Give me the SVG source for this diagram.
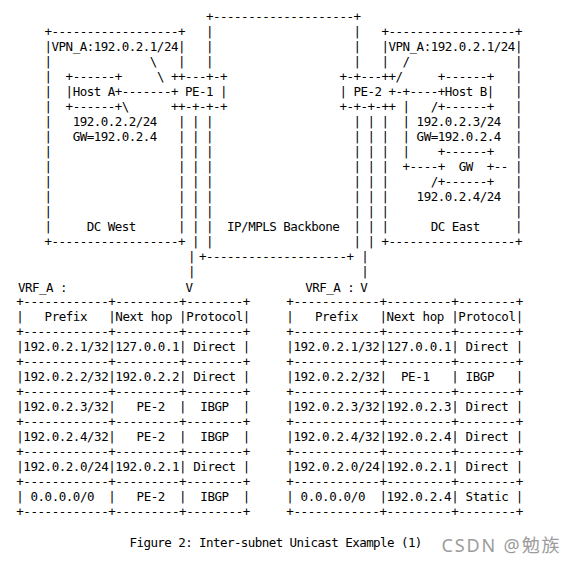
<svg xmlns="http://www.w3.org/2000/svg" width="577" height="563" viewBox="0 0 577 563" xml:space="preserve">
<style>
text { white-space: pre; }
.t { font-family: "DejaVu Sans Mono", "Liberation Mono", monospace; font-size: 12.5px; letter-spacing: -0.506px; fill: #000; }
.tl { font-family: "DejaVu Sans Mono", "Liberation Mono", monospace; font-size: 12.5px; letter-spacing: -0.446px; fill: #000; }
.tr { font-family: "DejaVu Sans Mono", "Liberation Mono", monospace; font-size: 12.5px; letter-spacing: -0.356px; fill: #000; }
.cap { font-family: "DejaVu Sans Mono", "Liberation Mono", monospace; font-size: 12.5px; letter-spacing: -0.566px; fill: #000; }
.wm { font-family: "Noto Sans", "Noto Sans CJK SC", sans-serif; font-size: 18px; fill: #9c9c9c; }
</style>
<rect width="577" height="563" fill="#fff"/>

<g id="backbone">
<text class="t" x="206.02" y="21">+--------------------+</text>
<text class="t" x="206.02" y="36">|</text><text class="t" x="353.44" y="36">|</text>
<text class="t" x="206.02" y="51">|</text><text class="t" x="353.44" y="51">|</text>
<text class="t" x="206.02" y="66">|</text><text class="t" x="353.44" y="66">|</text>
<text class="t" x="206.02" y="126">|</text><text class="t" x="353.44" y="126">|</text>
<text class="t" x="206.02" y="141">|</text><text class="t" x="353.44" y="141">|</text>
<text class="t" x="206.02" y="156">|</text><text class="t" x="353.44" y="156">|</text>
<text class="t" x="206.02" y="171">|</text><text class="t" x="353.44" y="171">|</text>
<text class="t" x="206.02" y="186">|</text><text class="t" x="353.44" y="186">|</text>
<text class="t" x="206.02" y="201">|</text><text class="t" x="353.44" y="201">|</text>
<text class="t" x="206.02" y="216">|</text><text class="t" x="353.44" y="216">|</text>
<text class="t" x="206.02" y="231">|</text><text class="t" x="227.08" y="231">IP/MPLS Backbone</text><text class="t" x="353.44" y="231">|</text>
<text class="t" x="206.02" y="246">|</text><text class="t" x="353.44" y="246">|</text>
<text class="t" x="199.0" y="261">+--------------------+</text>
</g>

<g id="dc-west">
<text class="t" x="44.56" y="36">+------------------+</text>
<text class="t" x="44.56" y="51">|VPN_A:192.0.2.1/24|</text>
<text class="t" x="44.56" y="66">|</text><text class="t" x="177.94" y="66">|</text>
<text class="t" x="44.56" y="81">|</text>
<text class="t" x="44.56" y="96">|</text>
<text class="t" x="44.56" y="111">|</text>
<text class="t" x="44.56" y="126">|</text><text class="t" x="72.64" y="126">192.0.2.2/24</text><text class="t" x="177.94" y="126">|</text>
<text class="t" x="44.56" y="141">|</text><text class="t" x="72.64" y="141">GW=192.0.2.4</text><text class="t" x="177.94" y="141">|</text>
<text class="t" x="44.56" y="156">|</text><text class="t" x="177.94" y="156">|</text>
<text class="t" x="44.56" y="171">|</text><text class="t" x="177.94" y="171">|</text>
<text class="t" x="44.56" y="186">|</text><text class="t" x="177.94" y="186">|</text>
<text class="t" x="44.56" y="201">|</text><text class="t" x="177.94" y="201">|</text>
<text class="t" x="44.56" y="216">|</text><text class="t" x="177.94" y="216">|</text>
<text class="t" x="44.56" y="231">|</text><text class="t" x="86.68" y="231">DC West</text><text class="t" x="177.94" y="231">|</text>
<text class="t" x="44.56" y="246">+------------------+</text>
</g>

<g id="host-a">
<text class="t" x="65.62" y="81">+------+</text>
<text class="t" x="65.62" y="96">|Host A+</text>
<text class="t" x="65.62" y="111">+------+</text>
</g>

<g id="pe-1">
<text class="t" x="170.92" y="81">++---+-+</text>
<text class="t" x="170.92" y="96">+ PE-1 |</text>
<text class="t" x="170.92" y="111">++-+-+-+</text>
</g>

<g id="pe-2">
<text class="t" x="339.4" y="81">+-+---++</text>
<text class="t" x="339.4" y="96">| PE-2 +</text>
<text class="t" x="339.4" y="111">+-+-+-++</text>
</g>

<g id="dc-east">
<text class="t" x="381.52" y="36">+------------------+</text>
<text class="t" x="381.52" y="51">|VPN_A:192.0.2.1/24|</text>
<text class="t" x="381.52" y="66">|</text><text class="t" x="514.9" y="66">|</text>
<text class="t" x="514.9" y="81">|</text>
<text class="t" x="514.9" y="96">|</text>
<text class="t" x="514.9" y="111">|</text>
<text class="t" x="381.52" y="126">|</text><text class="t" x="416.62" y="126">192.0.2.3/24</text><text class="t" x="514.9" y="126">|</text>
<text class="t" x="381.52" y="141">|</text><text class="t" x="416.62" y="141">GW=192.0.2.4</text><text class="t" x="514.9" y="141">|</text>
<text class="t" x="381.52" y="156">|</text><text class="t" x="514.9" y="156">|</text>
<text class="t" x="381.52" y="171">|</text><text class="t" x="514.9" y="171">|</text>
<text class="t" x="381.52" y="186">|</text><text class="t" x="514.9" y="186">|</text>
<text class="t" x="381.52" y="201">|</text><text class="t" x="416.62" y="201">192.0.2.4/24</text><text class="t" x="514.9" y="201">|</text>
<text class="t" x="381.52" y="216">|</text><text class="t" x="514.9" y="216">|</text>
<text class="t" x="381.52" y="231">|</text><text class="t" x="430.66" y="231">DC East</text><text class="t" x="514.9" y="231">|</text>
<text class="t" x="381.52" y="246">+------------------+</text>
</g>

<g id="host-b">
<text class="t" x="437.68" y="81">+------+</text>
<text class="t" x="437.68" y="96">+Host B|</text>
<text class="t" x="437.68" y="111">+------+</text>
</g>

<g id="gw">
<text class="t" x="437.68" y="156">+------+</text>
<text class="t" x="437.68" y="171">+  GW  +</text>
<text class="t" x="437.68" y="186">+------+</text>
</g>

<g id="connectors">
<text class="t" x="149.86" y="66">\</text>
<text class="t" x="156.88" y="81">\</text>
<text class="t" x="121.78" y="96">-------</text>
<text class="t" x="121.78" y="111">\</text>
<text class="t" x="402.58" y="66">/</text>
<text class="t" x="395.56" y="81">/</text>
<text class="t" x="395.56" y="96">-+----</text>
<text class="t" x="402.58" y="111">|</text><text class="t" x="430.66" y="111">/</text>
<text class="t" x="402.58" y="126">|</text>
<text class="t" x="402.58" y="141">|</text>
<text class="t" x="402.58" y="156">|</text>
<text class="t" x="402.58" y="171">+----</text><text class="t" x="493.84" y="171">--</text>
<text class="t" x="430.66" y="186">/</text>
<text class="t" x="191.98" y="126">|</text><text class="t" x="367.48" y="126">|</text>
<text class="t" x="191.98" y="141">|</text><text class="t" x="367.48" y="141">|</text>
<text class="t" x="191.98" y="156">|</text><text class="t" x="367.48" y="156">|</text>
<text class="t" x="191.98" y="171">|</text><text class="t" x="367.48" y="171">|</text>
<text class="t" x="191.98" y="186">|</text><text class="t" x="367.48" y="186">|</text>
<text class="t" x="191.98" y="201">|</text><text class="t" x="367.48" y="201">|</text>
<text class="t" x="191.98" y="216">|</text><text class="t" x="367.48" y="216">|</text>
<text class="t" x="191.98" y="231">|</text><text class="t" x="367.48" y="231">|</text>
<text class="t" x="191.98" y="246">|</text><text class="t" x="367.48" y="246">|</text>
<text class="t" x="187.9" y="261">|</text><text class="t" x="361.2" y="261">|</text>
<text class="t" x="187.9" y="276">|</text><text class="t" x="361.2" y="276">|</text>
<text class="t" x="185.5" y="292">V</text><text class="t" x="360.2" y="292">V</text>
</g>

<g id="vrf-table-pe1">
<text class="t" x="17.9" y="292">VRF_A :</text>
<text class="tl" x="16.24" y="306">+------------+---------+--------+</text>
<text class="tl" x="16.24" y="321">|   Prefix   |Next hop |Protocol|</text>
<text class="tl" x="16.24" y="336">+------------+---------+--------+</text>
<text class="tl" x="16.24" y="351">|192.0.2.1/32|127.0.0.1| Direct |</text>
<text class="tl" x="16.24" y="366">+------------+---------+--------+</text>
<text class="tl" x="16.24" y="381">|192.0.2.2/32|192.0.2.2| Direct |</text>
<text class="tl" x="16.24" y="396">+------------+---------+--------+</text>
<text class="tl" x="16.24" y="411">|192.0.2.3/32|   PE-2  |  IBGP  |</text>
<text class="tl" x="16.24" y="426">+------------+---------+--------+</text>
<text class="tl" x="16.24" y="441">|192.0.2.4/32|   PE-2  |  IBGP  |</text>
<text class="tl" x="16.24" y="456">+------------+---------+--------+</text>
<text class="tl" x="16.24" y="471">|192.0.2.0/24|192.0.2.1| Direct |</text>
<text class="tl" x="16.24" y="486">+------------+---------+--------+</text>
<text class="tl" x="16.24" y="501">| 0.0.0.0/0  |   PE-2  |  IBGP  |</text>
<text class="tl" x="16.24" y="516">+------------+---------+--------+</text>
</g>

<g id="vrf-table-pe2">
<text class="t" x="305.2" y="292">VRF_A :</text>
<text class="tr" x="286.24" y="306">+------------+---------+--------+</text>
<text class="tr" x="286.24" y="321">|   Prefix   |Next hop |Protocol|</text>
<text class="tr" x="286.24" y="336">+------------+---------+--------+</text>
<text class="tr" x="286.24" y="351">|192.0.2.1/32|127.0.0.1| Direct |</text>
<text class="tr" x="286.24" y="366">+------------+---------+--------+</text>
<text class="tr" x="286.24" y="381">|192.0.2.2/32|  PE-1   | IBGP   |</text>
<text class="tr" x="286.24" y="396">+------------+---------+--------+</text>
<text class="tr" x="286.24" y="411">|192.0.2.3/32|192.0.2.3| Direct |</text>
<text class="tr" x="286.24" y="426">+------------+---------+--------+</text>
<text class="tr" x="286.24" y="441">|192.0.2.4/32|192.0.2.4| Direct |</text>
<text class="tr" x="286.24" y="456">+------------+---------+--------+</text>
<text class="tr" x="286.24" y="471">|192.0.2.0/24|192.0.2.1| Direct |</text>
<text class="tr" x="286.24" y="486">+------------+---------+--------+</text>
<text class="tr" x="286.24" y="501">| 0.0.0.0/0  |192.0.2.4| Static |</text>
<text class="tr" x="286.24" y="516">+------------+---------+--------+</text>
</g>

<g id="caption">
<text class="cap" x="129.5" y="547">Figure 2: Inter-subnet Unicast Example (1)</text>
</g>
<g id="watermark">
<text class="wm" x="441.5" y="551.5" textLength="118" lengthAdjust="spacing">CSDN @勉族</text>
</g>
</svg>
